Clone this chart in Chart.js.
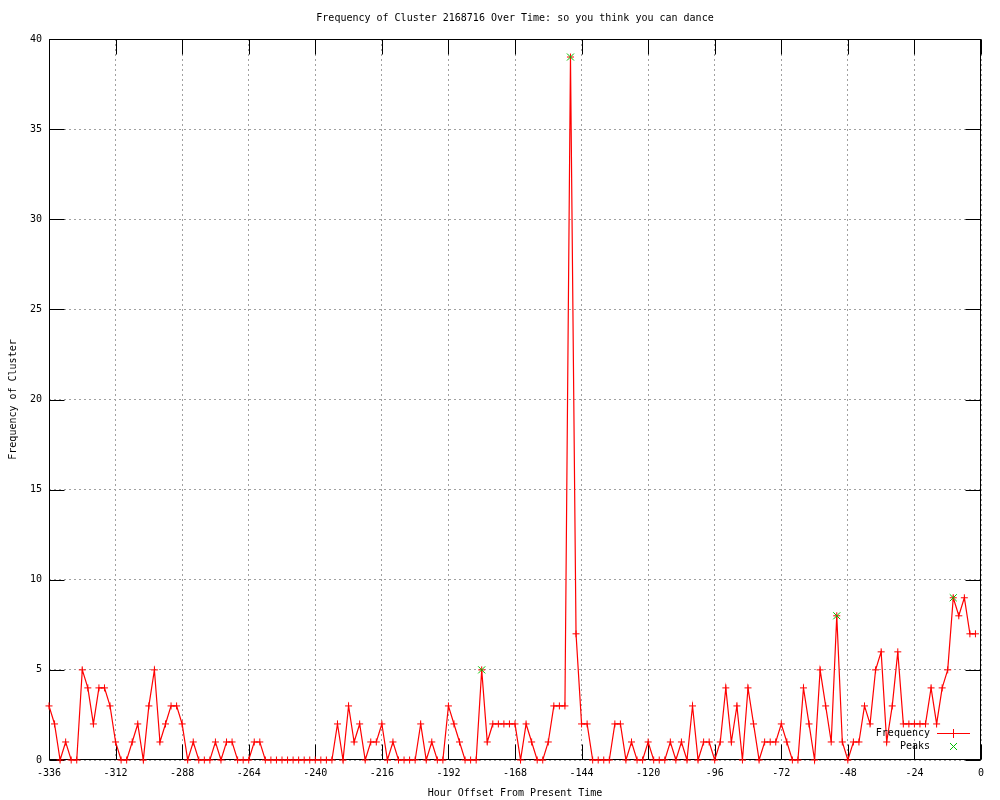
<!DOCTYPE html>
<html>
<head>
<meta charset="utf-8">
<title>Frequency of Cluster 2168716</title>
<script src="https://cdn.jsdelivr.net/npm/chart.js@4.4.0/dist/chart.umd.min.js"></script>
<style>
  html, body { margin: 0; padding: 0; background: #fff; }
  #wrap { width: 1000px; height: 800px; }
</style>
</head>
<body>
<div id="wrap"><canvas id="clusterChart" width="1000" height="800"></canvas></div>
<script>
// counts per 2-hour bucket, from -336h up to -2h
const frequency = [
  3, 2, 0, 1, 0, 0, 5, 4, 2, 4, 4, 3, 1, 0, 0, 1, 2, 0, 3, 5,
  1, 2, 3, 3, 2, 0, 1, 0, 0, 0, 1, 0, 1, 1, 0, 0, 0, 1, 1, 0,
  0, 0, 0, 0, 0, 0, 0, 0, 0, 0, 0, 0, 2, 0, 3, 1, 2, 0, 1, 1,
  2, 0, 1, 0, 0, 0, 0, 2, 0, 1, 0, 0, 3, 2, 1, 0, 0, 0, 5, 1,
  2, 2, 2, 2, 2, 0, 2, 1, 0, 0, 1, 3, 3, 3, 39, 7, 2, 2, 0, 0,
  0, 0, 2, 2, 0, 1, 0, 0, 1, 0, 0, 0, 1, 0, 1, 0, 3, 0, 1, 1,
  0, 1, 4, 1, 3, 0, 4, 2, 0, 1, 1, 1, 2, 1, 0, 0, 4, 2, 0, 5,
  3, 1, 8, 1, 0, 1, 1, 3, 2, 5, 6, 1, 3, 6, 2, 2, 2, 2, 2, 4,
  2, 4, 5, 9, 8, 9, 7, 7,
]
const firstHour = -336
const hourStep = 2
const hours = frequency.map((_, i) => firstHour + hourStep * i)

const peakHours = [-180, -148, -52, -10]
const peakValues = [5, 39, 8, 9]

const xTicks = [-336, -312, -288, -264, -240, -216, -192, -168, -144, -120, -96, -72, -48, -24, 0]
const yTicks = [0, 5, 10, 15, 20, 25, 30, 35, 40]

const TITLE = 'Frequency of Cluster 2168716 Over Time: so you think you can dance'
const FONT = '"DejaVu Sans Mono", "Liberation Mono", monospace'
const TICK_LEN = 15

// gnuplot style frame with inward ticks on all four sides
const framePlugin = {
    id: 'frame',
    beforeDatasetsDraw(chart) {
        const {ctx, chartArea: a, scales} = chart
        const l = Math.round(a.left) + 0.5
        const r = Math.round(a.right) - 0.5
        const t = Math.round(a.top) + 0.5
        const b = Math.round(a.bottom) - 0.5
        ctx.save()
        ctx.strokeStyle = '#000'
        ctx.lineWidth = 1
        ctx.beginPath()
        for (const v of xTicks) {
            const px = Math.round(scales.x.getPixelForValue(v)) + 0.5
            ctx.moveTo(px, b); ctx.lineTo(px, b - TICK_LEN)
            ctx.moveTo(px, t); ctx.lineTo(px, t + TICK_LEN)
        }
        for (const v of yTicks) {
            const py = Math.round(scales.y.getPixelForValue(v)) + 0.5
            ctx.moveTo(l, py); ctx.lineTo(l + TICK_LEN, py)
            ctx.moveTo(r, py); ctx.lineTo(r - TICK_LEN, py)
        }
        ctx.stroke()
        ctx.strokeRect(l, t, r - l, b - t)
        ctx.restore()
    },
    afterDraw(chart) {
        const {ctx, chartArea: a} = chart
        ctx.save()
        ctx.font = '10px ' + FONT
        ctx.fillStyle = '#000'
        ctx.textBaseline = 'middle'

        // title centred over the plot area, like gnuplot does
        ctx.textAlign = 'center'
        ctx.fillText(TITLE, (a.left + a.right) / 2, 18)

        const textRight = a.right - 51
        const sampleX = Math.round(a.right - 28)
        const rowY = [Math.round(a.bottom - 27), Math.round(a.bottom - 14)]
        ctx.textAlign = 'right'
        ctx.fillText('Frequency', textRight, rowY[0])
        ctx.fillText('Peaks', textRight, rowY[1])

        // red line sample with a plus
        ctx.fillStyle = '#ff0000'
        ctx.fillRect(sampleX - 16, rowY[0], 33, 1)
        ctx.fillRect(sampleX, rowY[0] - 4, 1, 9)

        // green x sample
        ctx.strokeStyle = '#00c000'
        ctx.lineWidth = 1
        ctx.beginPath()
        const y1 = rowY[1] + 0.5
        const x1 = sampleX + 0.5
        ctx.moveTo(x1 - 3.5, y1 - 3.5); ctx.lineTo(x1 + 3.5, y1 + 3.5)
        ctx.moveTo(x1 - 3.5, y1 + 3.5); ctx.lineTo(x1 + 3.5, y1 - 3.5)
        ctx.stroke()
        ctx.restore()
    },
}

const createClusterPlot = () => {
    const ctx = document.getElementById('clusterChart').getContext('2d')
    new Chart(ctx, {
        type: 'line',
        data: {
            datasets: [
            {
                label: 'Frequency',
                data: hours.map((h, i) => ({x: h, y: frequency[i]})),
                borderColor: '#ff0000',
                backgroundColor: '#ff0000',
                borderWidth: 1.2,
                pointStyle: 'cross',
                pointRadius: 3.5,
                pointBorderWidth: 1,
                pointBorderColor: '#ff0000',
                tension: 0,
                clip: false,
                order: 1,
            },
            {
                label: 'Peaks',
                data: peakHours.map((h, i) => ({x: h, y: peakValues[i]})),
                showLine: false,
                borderColor: '#00c000',
                backgroundColor: '#00c000',
                pointStyle: 'crossRot',
                pointRadius: 5,
                pointBorderWidth: 1,
                clip: false,
                order: 0,
            }
            ]
        },
        options: {
            responsive: false,
            animation: false,
            events: [],
            layout: { padding: { top: 39, right: 19, bottom: 0, left: 0 } },
            plugins: {
                legend: { display: false },
                tooltip: { enabled: false },
                title: { display: false },
            },
            scales: {
                x: {
                    type: 'linear',
                    min: -336,
                    max: 0,
                    afterFit: (scale) => { scale.height = 40 },
                    afterBuildTicks: (scale) => { scale.ticks = xTicks.map(v => ({value: v})) },
                    ticks: {
                        color: '#000',
                        font: { family: FONT, size: 10 },
                        padding: 7,
                        maxRotation: 0,
                        autoSkip: false,
                    },
                    grid: { color: '#a0a0a0', drawTicks: false, lineWidth: 1 },
                    border: { display: false, dash: [2, 3] },
                    title: {
                        display: true,
                        text: 'Hour Offset From Present Time',
                        color: '#000',
                        font: { family: FONT, size: 10, lineHeight: 1.2 },
                        padding: { top: 0, bottom: 1 },
                    },
                },
                y: {
                    min: 0,
                    max: 40,
                    afterFit: (scale) => { scale.width = 49 },
                    afterBuildTicks: (scale) => { scale.ticks = yTicks.map(v => ({value: v})) },
                    ticks: {
                        color: '#000',
                        font: { family: FONT, size: 10 },
                        padding: 7,
                    },
                    grid: { color: '#a0a0a0', drawTicks: false, lineWidth: 1 },
                    border: { display: false, dash: [2, 3] },
                    title: {
                        display: true,
                        text: 'Frequency of Cluster',
                        color: '#000',
                        font: { family: FONT, size: 10, lineHeight: 1.2 },
                        padding: { top: 7, bottom: 0 },
                    },
                },
            },
        },
        plugins: [framePlugin],
    })
}

document.addEventListener('DOMContentLoaded', () => {
    createClusterPlot()
})
</script>
</body>
</html>
